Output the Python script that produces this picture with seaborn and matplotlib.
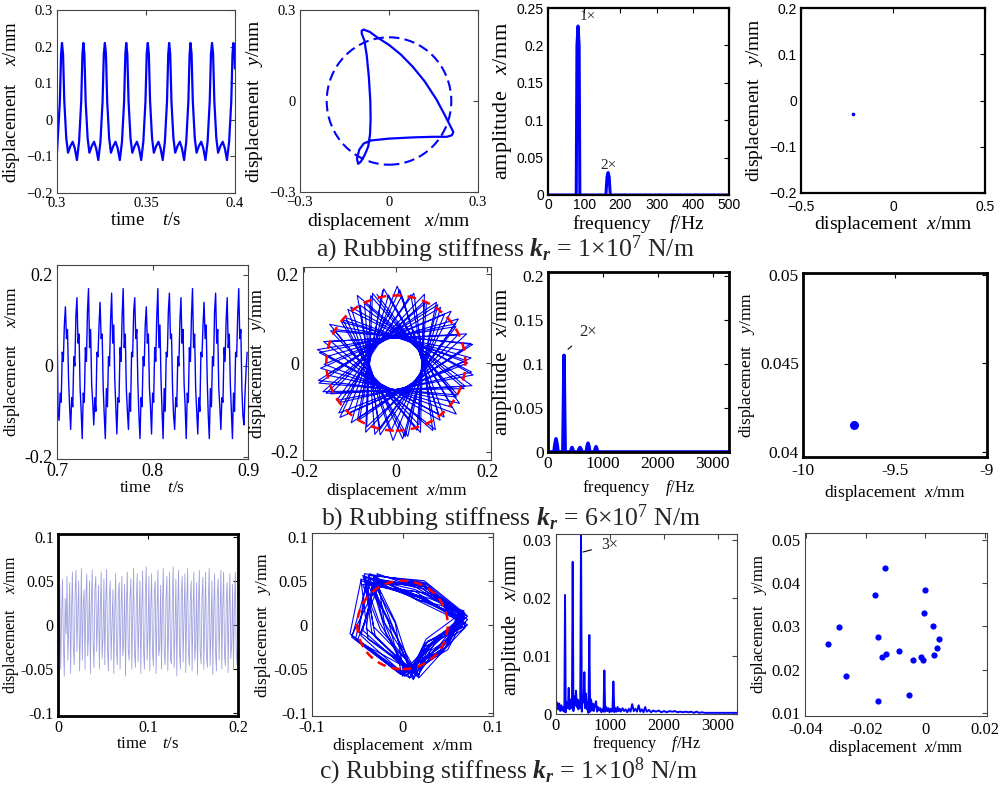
import numpy as np
import matplotlib
matplotlib.use("Agg")
import matplotlib.pyplot as plt
from matplotlib.patches import Circle
import seaborn as sns

# ------------------------------------------------------------------
# (a) rubbing stiffness 1e7 N/m : periodic 1x response
# ------------------------------------------------------------------
a_t = [0.3000, 0.3016, 0.3023,
       0.3028, 0.3034, 0.3041, 0.3052, 0.3062, 0.3075, 0.3088, 0.3100, 0.3112, 0.3124, 0.3136, 0.3143,
       0.3148, 0.3154, 0.3161, 0.3172, 0.3182, 0.3195, 0.3208, 0.3220, 0.3232, 0.3244, 0.3256, 0.3263,
       0.3269, 0.3275, 0.3282, 0.3293, 0.3303, 0.3316, 0.3329, 0.3341, 0.3353, 0.3365, 0.3377, 0.3384,
       0.3389, 0.3395, 0.3402, 0.3413, 0.3423, 0.3436, 0.3449, 0.3461, 0.3473, 0.3485, 0.3497, 0.3504,
       0.3510, 0.3516, 0.3523, 0.3534, 0.3544, 0.3557, 0.3570, 0.3582, 0.3594, 0.3606, 0.3618, 0.3625,
       0.3630, 0.3636, 0.3643, 0.3654, 0.3664, 0.3677, 0.3690, 0.3702, 0.3714, 0.3726, 0.3738, 0.3745,
       0.3750, 0.3756, 0.3763, 0.3774, 0.3784, 0.3797, 0.3810, 0.3822, 0.3834, 0.3846, 0.3858, 0.3865,
       0.3871, 0.3877, 0.3884, 0.3895, 0.3905, 0.3918, 0.3931, 0.3943, 0.3955, 0.3967, 0.3979, 0.3986,
       0.3991, 0.3997, 0.4000]
a_x = [-0.09, 0.05, 0.18,
       0.21, 0.18, 0.05, -0.05, -0.09, -0.072, -0.06, -0.078, -0.11, -0.06, 0.05, 0.18,
       0.21, 0.18, 0.05, -0.05, -0.09, -0.072, -0.06, -0.078, -0.11, -0.06, 0.05, 0.18,
       0.21, 0.18, 0.05, -0.05, -0.09, -0.072, -0.06, -0.078, -0.11, -0.06, 0.05, 0.18,
       0.21, 0.18, 0.05, -0.05, -0.09, -0.072, -0.06, -0.078, -0.11, -0.06, 0.05, 0.18,
       0.21, 0.18, 0.05, -0.05, -0.09, -0.072, -0.06, -0.078, -0.11, -0.06, 0.05, 0.18,
       0.21, 0.18, 0.05, -0.05, -0.09, -0.072, -0.06, -0.078, -0.11, -0.06, 0.05, 0.18,
       0.21, 0.18, 0.05, -0.05, -0.09, -0.072, -0.06, -0.078, -0.11, -0.06, 0.05, 0.18,
       0.21, 0.18, 0.05, -0.05, -0.09, -0.072, -0.06, -0.078, -0.11, -0.06, 0.05, 0.18,
       0.21, 0.18, 0.14]

a_orb_x = [-0.085, -0.065, -0.040, 0.000, 0.040, 0.080, 0.120, 0.160, 0.190, 0.208, 0.217,
           0.212, 0.195, 0.150, 0.080, 0.000, -0.060, -0.085, -0.100, -0.108, -0.104, -0.095,
           -0.082, -0.070, -0.064, -0.062, -0.063, -0.068, -0.075, -0.083, -0.092, -0.092, -0.085]
a_orb_y = [0.235, 0.228, 0.210, 0.185, 0.153, 0.113, 0.065, 0.005, -0.050, -0.085, -0.102,
           -0.113, -0.118, -0.118, -0.120, -0.124, -0.130, -0.140, -0.160, -0.190, -0.207, -0.200,
           -0.178, -0.150, -0.110, -0.060, 0.000, 0.080, 0.150, 0.200, 0.222, 0.232, 0.235]
a_clearance = 0.21

a_freq = [0, 78, 80, 83, 86, 88, 160, 163, 166, 169, 172, 500]
a_amp = [0, 0, 0.20, 0.226, 0.20, 0, 0, 0.024, 0.030, 0.024, 0, 0]

a_pc_x = [-0.219]
a_pc_y = [-0.0285]

# ------------------------------------------------------------------
# (b) rubbing stiffness 6e7 N/m : 2x dominated, quasi-periodic
# ------------------------------------------------------------------
b_t0, b_dt = 0.7, 0.0011
b_x = [0.11, -0.10, -0.12, -0.06, -0.08, 0.03, 0.01, 0.09, 0.13, 0.06, 0.08,
       -0.03, -0.09, -0.14, -0.07, -0.09, 0.02, 0.00, 0.11, 0.15, 0.05, 0.07,
       -0.05, -0.10, -0.16, -0.06, -0.08, 0.04, 0.01, 0.12, 0.17, 0.04, 0.08,
       -0.04, -0.08, -0.13, -0.07, -0.10, 0.03, 0.02, 0.09, 0.14, 0.06, 0.07,
       -0.05, -0.11, -0.16, -0.05, -0.09, 0.02, 0.00, 0.10, 0.16, 0.05, 0.09,
       -0.03, -0.09, -0.15, -0.07, -0.08, 0.04, 0.01, 0.11, 0.17, 0.04, 0.07,
       -0.05, -0.10, -0.14, -0.06, -0.10, 0.03, 0.02, 0.12, 0.15, 0.06, 0.08,
       -0.04, -0.11, -0.16, -0.07, -0.09, 0.02, 0.00, 0.09, 0.13, 0.05, 0.07,
       -0.05, -0.09, -0.15, -0.06, -0.08, 0.04, 0.01, 0.11, 0.17, 0.04, 0.09,
       -0.03, -0.10, -0.16, -0.05, -0.10, 0.03, 0.02, 0.12, 0.16, 0.06, 0.07,
       -0.05, -0.11, -0.14, -0.07, -0.09, 0.02, 0.00, 0.10, 0.15, 0.05, 0.08,
       -0.04, -0.09, -0.16, -0.06, -0.08, 0.04, 0.01, 0.11, 0.17, 0.04, 0.07,
       -0.05, -0.10, -0.15, -0.07, -0.10, 0.03, 0.02, 0.09, 0.14, 0.06, 0.09,
       -0.03, -0.11, -0.16, -0.05, -0.09, 0.02, 0.00, 0.12, 0.16, 0.05, 0.08,
       -0.05, -0.09, -0.14, -0.07, -0.08, 0.04, 0.01, 0.10, 0.15, 0.04, 0.07,
       -0.04, -0.10, -0.16, -0.06, -0.10, 0.03, 0.02, 0.11, 0.17, 0.06, 0.08,
       -0.05, -0.11, -0.13, -0.06, -0.01, 0.03]

# petal tips of the rub orbit, in polar form
b_tip_deg = [100, 238, 15, 153, 290, 68, 206, 343, 121, 258, 36, 174, 311, 89, 227, 4,
             142, 279, 57, 195, 332, 110, 247, 25, 163, 300, 78, 216, 353, 131, 268, 46,
             184, 321, 99, 236, 14, 151, 289, 66, 204, 341, 119, 257, 34, 172, 309, 87,
             225, 2, 140, 277, 55, 193, 330, 108, 246, 23, 161, 298, 76, 213, 351, 128,
             266, 44, 181, 319, 96, 234, 11, 149, 287, 64, 202, 339, 117, 254, 32, 170,
             307, 85, 222, 0, 137, 275, 52, 190, 327, 105]
b_tip_r = [0.166, 0.150, 0.170, 0.160, 0.148, 0.167, 0.158, 0.174, 0.152, 0.165,
           0.169, 0.149, 0.161, 0.173, 0.155, 0.165, 0.151, 0.167, 0.163, 0.174,
           0.153, 0.161, 0.169, 0.149, 0.165, 0.173, 0.157, 0.151, 0.167, 0.160,
           0.174, 0.153, 0.165, 0.158, 0.169, 0.149, 0.173, 0.156, 0.165, 0.151,
           0.167, 0.160, 0.174, 0.153, 0.158, 0.169, 0.149, 0.165, 0.173, 0.155,
           0.151, 0.167, 0.160, 0.174, 0.153, 0.165, 0.157, 0.168, 0.150, 0.172,
           0.162, 0.154, 0.171, 0.160, 0.152, 0.168, 0.157, 0.175, 0.154, 0.166,
           0.148, 0.169, 0.158, 0.153, 0.172, 0.160, 0.151, 0.167, 0.155, 0.174,
           0.161, 0.152, 0.168, 0.157, 0.150, 0.171, 0.159, 0.154, 0.166, 0.160]
b_clearance = 0.152

b_freq = [0, 110, 125, 146, 167, 182, 272, 286, 292, 298, 312, 410, 425, 438, 451, 466,
          550, 565, 584, 603, 618, 700, 712, 730, 748, 760, 845, 860, 876, 892, 907, 3300]
b_amp = [0, 0, 0.008, 0.015, 0.008, 0, 0, 0.07, 0.11, 0.07, 0, 0, 0.003, 0.005, 0.003, 0,
         0, 0.003, 0.005, 0.003, 0, 0, 0.006, 0.010, 0.006, 0, 0, 0.003, 0.006, 0.003, 0, 0]

b_pc_x = [-9.724]
b_pc_y = [0.0415]

# ------------------------------------------------------------------
# (c) rubbing stiffness 1e8 N/m : 3x dominated, chaotic
# ------------------------------------------------------------------
c_t0, c_dt = 0.0, 0.001
c_x = [0.020, -0.030, 0.045, -0.050, 0.010, 0.052, -0.020, -0.058, 0.030, -0.010,
       0.055, -0.040, 0.000, 0.048, -0.055, 0.015, 0.060, -0.025, -0.045, 0.035,
       0.062, -0.030, 0.010, 0.050, -0.052, -0.005, 0.064, -0.040, 0.020, 0.040,
       -0.050, 0.030, 0.058, -0.035, -0.010, 0.050, -0.055, 0.025, 0.062, -0.020,
       -0.048, 0.040, 0.055, -0.030, 0.005, 0.045, -0.050, 0.018, 0.060, -0.038,
       -0.015, 0.052, -0.045, 0.020, 0.063, -0.025, -0.052, 0.030, 0.050, -0.040,
       0.000, 0.040, -0.055, 0.010, 0.058, -0.030, -0.045, 0.035, 0.048, -0.050,
       0.015, 0.055, -0.035, -0.020, 0.046, -0.058, 0.020, 0.060, -0.028, -0.040,
       0.030, 0.052, -0.050, 0.008, 0.064, -0.032, -0.048, 0.025, 0.058, -0.042,
       0.002, 0.050, -0.055, 0.012, 0.061, -0.026, -0.050, 0.033, 0.066, -0.040,
       -0.010, 0.055, -0.052, 0.018, 0.058, -0.030, -0.046, 0.038, 0.050, -0.055,
       0.010, 0.062, -0.035, -0.025, 0.045, -0.050, 0.022, 0.064, -0.030, -0.045,
       0.028, 0.055, -0.052, 0.005, 0.060, -0.038, -0.044, 0.030, 0.066, -0.048,
       -0.005, 0.052, -0.058, 0.015, 0.062, -0.028, -0.050, 0.036, 0.055, -0.042,
       0.008, 0.058, -0.054, 0.020, 0.064, -0.032, -0.046, 0.028, 0.050, -0.052,
       0.012, 0.060, -0.040, -0.020, 0.048, -0.056, 0.018, 0.062, -0.030, -0.044,
       0.030, 0.054, -0.050, 0.004, 0.060, -0.036, -0.048, 0.026, 0.064, -0.046,
       -0.008, 0.050, -0.056, 0.016, 0.058, -0.030, -0.052, 0.034, 0.052, -0.040,
       0.010, 0.062, -0.050, 0.018, 0.060, -0.034, -0.046, 0.030, 0.048, -0.054,
       0.014, 0.058, -0.038, -0.022, 0.046, -0.050, 0.024, 0.060, -0.030, -0.045]

# orbit: one row per whirl cycle (upper-left, top, right, lower-right, bottom, left)
c_orb_x = [-0.032, 0.018, 0.066, 0.040, 0.010, -0.012,
           -0.040, 0.022, 0.070, 0.026, 0.004, -0.046,
           -0.028, 0.012, 0.064, 0.046, 0.016, -0.024,
           -0.044, 0.026, 0.068, 0.034, -0.002, -0.056,
           -0.036, 0.016, 0.072, 0.022, 0.012, -0.008,
           -0.030, 0.020, 0.062, 0.048, 0.006, -0.034,
           -0.042, 0.028, 0.068, 0.030, 0.018, -0.050,
           -0.026, 0.010, 0.066, 0.038, 0.000, -0.016,
           -0.038, 0.024, 0.070, 0.044, 0.014, -0.040,
           -0.034, 0.014, 0.064, 0.024, 0.008, -0.058,
           -0.046, 0.030, 0.068, 0.050, 0.002, -0.020,
           -0.028, 0.016, 0.072, 0.036, 0.016, -0.030,
           -0.040, 0.022, 0.066, 0.028, 0.010, -0.010,
           -0.032, 0.012, 0.062, 0.042, -0.004, -0.052,
           -0.036, 0.026, 0.070, 0.032, 0.012, -0.026,
           -0.044, 0.018, 0.068, 0.046, 0.006, -0.044,
           -0.030, 0.028, 0.064, 0.024, 0.018, -0.014,
           -0.038, 0.014, 0.072, 0.040, 0.000, -0.056,
           -0.026, 0.020, 0.066, 0.050, 0.014, -0.032,
           -0.042, 0.024, 0.068, 0.028, 0.008, -0.018,
           -0.034, 0.010, 0.062, 0.036, 0.016, -0.048,
           -0.040, 0.030, 0.070, 0.044, 0.002, -0.008,
           -0.030, 0.016, 0.066, 0.026, 0.010, -0.038,
           -0.046, 0.022, 0.064, 0.048, 0.018, -0.022,
           -0.032]
c_orb_y = [0.052, 0.044, 0.010, -0.024, -0.054, 0.000,
           0.048, 0.030, 0.002, -0.020, -0.058, -0.012,
           0.056, 0.048, 0.012, -0.028, -0.052, -0.006,
           0.046, 0.036, 0.006, -0.018, -0.056, -0.014,
           0.058, 0.028, 0.000, -0.026, -0.060, 0.004,
           0.050, 0.046, 0.014, -0.020, -0.050, -0.008,
           0.054, 0.040, -0.004, -0.030, -0.056, -0.018,
           0.046, 0.032, 0.008, -0.016, -0.058, 0.006,
           0.056, 0.050, 0.012, -0.026, -0.054, -0.004,
           0.044, 0.038, 0.004, -0.022, -0.060, -0.010,
           0.050, 0.030, 0.014, -0.024, -0.052, 0.002,
           0.058, 0.042, 0.006, -0.028, -0.058, -0.014,
           0.046, 0.048, -0.002, -0.018, -0.056, -0.004,
           0.054, 0.034, 0.010, -0.030, -0.054, -0.016,
           0.048, 0.044, 0.008, -0.020, -0.062, 0.004,
           0.056, 0.028, 0.016, -0.022, -0.052, -0.006,
           0.048, 0.046, 0.000, -0.028, -0.058, 0.000,
           0.052, 0.040, 0.010, -0.018, -0.056, -0.012,
           0.050, 0.032, 0.004, -0.028, -0.050, -0.002,
           0.058, 0.048, 0.012, -0.024, -0.060, -0.010,
           0.046, 0.036, 0.006, -0.020, -0.054, -0.008,
           0.054, 0.042, -0.002, -0.030, -0.058, 0.002,
           0.044, 0.050, 0.014, -0.016, -0.052, -0.016,
           0.052, 0.030, 0.008, -0.026, -0.060, 0.006,
           0.050]
c_clearance = 0.05

c_freq = [0, 20, 40, 60, 80, 100, 120, 140, 155, 167, 180, 200, 220, 235, 250, 265, 280, 295,
          309, 322, 340, 355, 370, 385, 400, 415, 430, 448, 463, 478, 495, 510, 525, 540, 555,
          570, 585, 600, 617, 632, 650, 665, 680, 700, 720, 740, 760, 780, 800, 820, 840, 860,
          880, 895, 910, 930, 950, 970, 990, 1010, 1030, 1045, 1062, 1080, 1100, 1120, 1140,
          1160, 1180, 1200, 1230, 1260, 1290, 1320, 1350, 1380, 1410, 1440, 1470, 1500, 1530,
          1560, 1590, 1620, 1650, 1680, 1720, 1760, 1800, 1850, 1900, 1950, 2000, 2050, 2100,
          2150, 2200, 2250, 2300, 2350, 2400, 2450, 2500, 2550, 2600, 2650, 2700, 2750, 2800,
          2900, 3000, 3100, 3200, 3350]
c_amp = [0.0005, 0.0020, 0.0008, 0.0018, 0.0005, 0.0015, 0.0006, 0.0012, 0.0004, 0.0205,
         0.0003, 0.0020, 0.0010, 0.0045, 0.0008, 0.0025, 0.0012, 0.0010, 0.0262, 0.0005,
         0.0030, 0.0015, 0.0040, 0.0012, 0.0025, 0.0008, 0.0022, 0.0010, 0.0309, 0.0004,
         0.0030, 0.0020, 0.0072, 0.0010, 0.0035, 0.0008, 0.0020, 0.0002, 0.0136, 0.0004,
         0.0025, 0.0006, 0.0018, 0.0005, 0.0015, 0.0022, 0.0004, 0.0012, 0.0006, 0.0010,
         0.0003, 0.0008, 0.0004, 0.0075, 0.0004, 0.0012, 0.0005, 0.0010, 0.0003, 0.0009,
         0.0004, 0.0008, 0.0056, 0.0003, 0.0010, 0.0004, 0.0012, 0.0005, 0.0009, 0.0004,
         0.0010, 0.0005, 0.0008, 0.0003, 0.0009, 0.0004, 0.0017, 0.0005, 0.0009, 0.0004,
         0.0015, 0.0004, 0.0008, 0.0003, 0.0012, 0.0004, 0.0007, 0.0003, 0.0006, 0.0004,
         0.0006, 0.0003, 0.0005, 0.0003, 0.0005, 0.0004, 0.0005, 0.0003, 0.0004, 0.0003,
         0.0004, 0.0003, 0.0004, 0.0002, 0.0004, 0.0002, 0.0003, 0.0002, 0.0002, 0.0002,
         0.0002, 0.0002, 0.0002, 0.0002]

c_pc_x = [-0.0136, -0.0170, 0.0000, -0.0004, 0.0026, -0.0290, 0.0045, -0.0159, -0.0326, 0.0041,
          -0.0087, -0.0130, -0.0146, 0.0029, -0.0015, -0.0041, -0.0009, -0.0265, -0.0054, -0.0159]
c_pc_y = [0.0434, 0.0373, 0.0384, 0.0330, 0.0301, 0.0299, 0.0271, 0.0275, 0.0258, 0.0249,
          0.0243, 0.0237, 0.0230, 0.0234, 0.0230, 0.0223, 0.0221, 0.0186, 0.0141, 0.0128]

# ------------------------------------------------------------------
# styling
# ------------------------------------------------------------------
sns.set_theme(style="white")
plt.rcParams["font.family"] = ["Liberation Serif", "DejaVu Serif"]
plt.rcParams["mathtext.fontset"] = "custom"
plt.rcParams["mathtext.rm"] = "Liberation Serif"
plt.rcParams["mathtext.it"] = "Liberation Serif:italic"
plt.rcParams["mathtext.bf"] = "Liberation Serif:bold:italic"

BLUE = "#0000ff"
RED = "#ff0000"
SERIF = "Liberation Serif"
SANS = "Liberation Sans"
M = "\u2212"

W, H = 1003, 785
fig = plt.figure(figsize=(W / 100, H / 100), dpi=100)
fig.patch.set_facecolor("white")


def panel(l, t, r, b):
    return fig.add_axes([l / W, 1 - b / H, (r - l) / W, (b - t) / H])


def frame(ax, xlim, ylim, xt, xtl, yt, ytl, fs, family=SERIF, spine_w=0.8, spine_c="#444444"):
    ax.set_xlim(*xlim)
    ax.set_ylim(*ylim)
    ax.set_xticks(xt)
    ax.set_xticklabels(xtl, fontsize=fs, family=family)
    ax.set_yticks(yt)
    ax.set_yticklabels(ytl, fontsize=fs, family=family)
    ax.tick_params(which="both", direction="in", length=3.5, width=0.8, top=True, right=True,
                   pad=3, color=spine_c, labelcolor="black")
    for sp in ax.spines.values():
        sp.set_visible(True)
        sp.set_linewidth(spine_w)
        sp.set_color(spine_c)
    ax.grid(False)
    ax.set_facecolor("white")


def labels(ax, xl, yl, xs, ys, xpad=2, ypad=2):
    ax.set_xlabel(xl, fontsize=xs, labelpad=xpad, color="black")
    ax.set_ylabel(yl, fontsize=ys, labelpad=ypad, color="black")


def line(ax, x, y, color=BLUE, lw=1.0, alpha=1.0, z=2):
    sns.lineplot(x=np.asarray(x), y=np.asarray(y), sort=False, estimator=None, ax=ax,
                 color=color, linewidth=lw, alpha=alpha, zorder=z, legend=False)


def title(x, y, text):
    fig.text(x / W, 1 - y / H, text, ha="center", va="center", fontsize=18.5)


DISP_X = "displacement   $x$/mm"
DISP_Y = "displacement   $y$/mm"

# ----------------------------- row (a) -----------------------------
ax = panel(57, 10, 235, 193)
line(ax, a_t, a_x, lw=1.6)
frame(ax, (0.3, 0.4), (-0.2, 0.3), [0.3, 0.35, 0.4], ["0.3", "0.35", "0.4"],
      [-0.2, -0.1, 0, 0.1, 0.2, 0.3], [M + "0.2", M + "0.1", "0", "0.1", "0.2", "0.3"], 10.5)
labels(ax, "time    $t$/s", "displacement    $x$/mm", 13.5, 13.5, 1, 3)

ax = panel(300, 10, 478, 192)
line(ax, a_orb_x, a_orb_y, lw=1.6)
ax.add_patch(Circle((0, 0), a_clearance, fill=False, ec=BLUE, lw=1.5, ls=(0, (5, 2.5)), zorder=3))
frame(ax, (-0.3, 0.3), (-0.3, 0.3), [-0.3, 0, 0.3], [M + "0.3", "0", "0.3"],
      [-0.3, 0, 0.3], [M + "0.3", "0", "0.3"], 10.5)
labels(ax, DISP_X, DISP_Y, 14, 14, 1, 3)

ax = panel(548, 8, 729, 195)
line(ax, a_freq, a_amp, lw=2.2)
frame(ax, (0, 500), (0, 0.25), [0, 100, 200, 300, 400, 500], ["0", "100", "200", "300", "400", "500"],
      [0, 0.05, 0.1, 0.15, 0.2, 0.25], ["0", "0.05", "0.1", "0.15", "0.2", "0.25"], 10,
      family=SANS, spine_w=1.6, spine_c="black")
ax.tick_params(axis="x", pad=2)
labels(ax, "frequency    $f$/Hz", "amplitude   $x$/mm", 14, 16, 1, 2)
ax.text(110, 0.238, "1×", fontsize=11, ha="center", va="center")
ax.text(166, 0.040, "2×", fontsize=11, ha="center", va="center")

ax = panel(801, 8, 985, 193)
sns.scatterplot(x=a_pc_x, y=a_pc_y, ax=ax, color=BLUE, s=7, linewidth=0, legend=False)
frame(ax, (-0.5, 0.5), (-0.2, 0.2), [-0.5, 0, 0.5], [M + "0.5", "0", "0.5"],
      [-0.2, -0.1, 0, 0.1, 0.2], [M + "0.2", M + "0.1", "0", "0.1", "0.2"], 10,
      family=SANS, spine_w=1.6, spine_c="black")
ax.tick_params(axis="x", pad=5)
labels(ax, "displacement  $x$/mm", "displacement   $y$/mm", 14, 14, 0, 3)

title(505, 249, r"a) Rubbing stiffness $\mathbf{k}_{\mathbf{r}}$ = 1×10$^7$ N/m")

# ----------------------------- row (b) -----------------------------
ax = panel(57, 265, 248, 459)
b_t = b_t0 + b_dt * np.arange(len(b_x))
line(ax, b_t, b_x, lw=1.0)
frame(ax, (0.7, 0.9), (-0.205, 0.222), [0.7, 0.8, 0.9], ["0.7", "0.8", "0.9"],
      [-0.2, 0, 0.2], ["-0.2", "0", "0.2"], 13)
labels(ax, "time    $t$/s", "displacement    $x$/mm", 12.5, 12.5, 0, 2)

ax = panel(303, 267, 491, 460)
ang = np.deg2rad(b_tip_deg)
line(ax, np.asarray(b_tip_r) * np.cos(ang), np.asarray(b_tip_r) * np.sin(ang), lw=0.8)
ax.add_patch(Circle((0, 0), b_clearance, fill=False, ec=RED, lw=1.8, ls=(0, (3.5, 2.5)), zorder=3))
frame(ax, (-0.203, 0.208), (-0.218, 0.216), [-0.2, 0, 0.2], ["-0.2", "0", "0.2"],
      [-0.2, 0, 0.2], ["-0.2", "0", "0.2"], 13)
labels(ax, "displacement  $x$/mm", DISP_Y, 12.5, 13, 0, 2)

ax = panel(548, 272, 729, 452)
line(ax, b_freq, b_amp, lw=2.6)
frame(ax, (0, 3300), (0, 0.205), [0, 1000, 2000, 3000], ["0", "1000", "2000", "3000"],
      [0, 0.05, 0.1, 0.15, 0.2], ["0", "0.05", "0.1", "0.15", "0.2"], 12.5,
      spine_w=2.0, spine_c="black")
labels(ax, "frequency    $f$/Hz", "amplitude   $x$/mm", 12, 15, 4, 0)
ax.annotate("2×", xy=(365, 0.117), xytext=(729, 0.137), fontsize=12, ha="center", va="center",
            arrowprops=dict(arrowstyle="-", color="black", lw=0.8, shrinkA=4, shrinkB=0))

ax = panel(803, 273, 987, 457)
sns.scatterplot(x=b_pc_x, y=b_pc_y, ax=ax, color=BLUE, s=42, linewidth=0, legend=False)
frame(ax, (-10, -9), (0.0397, 0.0501), [-10, -9.5, -9], ["-10", "-9.5", "-9"],
      [0.04, 0.045, 0.05], ["0.04", "0.045", "0.05"], 12.5, spine_w=2.0, spine_c="black")
ax.tick_params(axis="x", pad=4)
labels(ax, "displacement  $x$/mm", "displacement   $y$/mm", 12.5, 12.5, 3, 2)

title(511, 518, r"b) Rubbing stiffness $\mathbf{k}_{\mathbf{r}}$ = 6×10$^7$ N/m")

# ----------------------------- row (c) -----------------------------
ax = panel(58, 534, 238, 716)
c_t = c_t0 + c_dt * np.arange(len(c_x))
line(ax, c_t, c_x, color="#9595dc", lw=0.6, alpha=0.9)
frame(ax, (0, 0.2), (-0.103, 0.103), [0, 0.1, 0.2], ["0", "0.1", "0.2"],
      [-0.1, -0.05, 0, 0.05, 0.1], ["-0.1", "-0.05", "0", "0.05", "0.1"], 11.5,
      spine_w=2.0, spine_c="black")
labels(ax, "time    $t$/s", "displacement    $x$/mm", 12, 11.5, 0, 0)

ax = panel(312, 533, 493, 716)
line(ax, c_orb_x, c_orb_y, lw=0.8)
ax.add_patch(Circle((0, 0), c_clearance, fill=False, ec=RED, lw=1.8, ls=(0, (3.5, 2.5)), zorder=3))
frame(ax, (-0.1, 0.1), (-0.103, 0.104), [-0.1, 0, 0.1], ["-0.1", "0", "0.1"],
      [-0.1, -0.05, 0, 0.05, 0.1], ["-0.1", "-0.05", "0", "0.05", "0.1"], 12)
labels(ax, "displacement  $x$/mm", DISP_Y, 12.5, 12.5, 0, 0)

ax = panel(556, 534, 737, 714)
line(ax, c_freq, c_amp, lw=1.4)
frame(ax, (0, 3350), (0, 0.031), [0, 1000, 2000, 3000], ["0", "1000", "2000", "3000"],
      [0, 0.01, 0.02, 0.03], ["0", "0.01", "0.02", "0.03"], 12)
labels(ax, "frequency    $f$/Hz", "amplitude   $x$/mm", 11.5, 14.5, 0, 0)
ax.annotate("3×", xy=(500, 0.0279), xytext=(999, 0.0291), fontsize=11.5, ha="center", va="center",
            arrowprops=dict(arrowstyle="-", color="black", lw=0.8, shrinkA=5, shrinkB=0))

ax = panel(805, 533, 987, 716)
sns.scatterplot(x=c_pc_x, y=c_pc_y, ax=ax, color=BLUE, s=20, linewidth=0, legend=False)
frame(ax, (-0.0403, 0.0207), (0.0093, 0.0515), [-0.04, -0.02, 0, 0.02], ["-0.04", "-0.02", "0", "0.02"],
      [0.01, 0.02, 0.03, 0.04, 0.05], ["0.01", "0.02", "0.03", "0.04", "0.05"], 12)
ax.tick_params(axis="x", pad=4)
labels(ax, "displacement  $x$/mm", "displacement   $y$/mm", 12, 12, 0, 2)

title(508, 771, r"c) Rubbing stiffness $\mathbf{k}_{\mathbf{r}}$ = 1×10$^8$ N/m")

fig.savefig("out.png", dpi=100, facecolor="white")
